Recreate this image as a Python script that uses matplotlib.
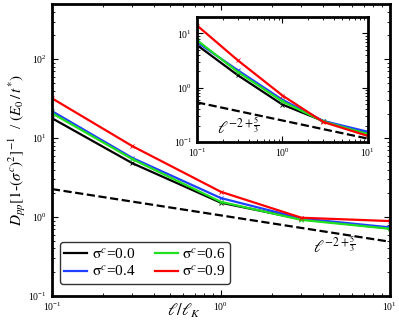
import matplotlib
matplotlib.use("Agg")
import matplotlib.pyplot as plt
from matplotlib.lines import Line2D
import numpy as np

plt.rcParams["font.family"] = ["Liberation Serif", "DejaVu Serif"]
plt.rcParams["mathtext.fontset"] = "stix"

# data
ell = [0.1, 0.3, 1.0, 3.0, 10.0]
sigmas = ["0.0", "0.4", "0.6", "0.9"]
colors = ["black", "#2040ff", "#20e020", "red"]

main_vals = [
    [17.9, 4.8, 1.52, 0.94, 0.72],
    [22.0, 5.6, 1.74, 0.96, 0.74],
    [20.7, 5.4, 1.56, 0.92, 0.71],
    [32.0, 7.9, 2.09, 0.98, 0.89],
]
inset_vals = [
    [6.1, 1.7, 0.49, 0.245, 0.14],
    [6.9, 2.1, 0.60, 0.245, 0.155],
    [7.5, 1.95, 0.56, 0.24, 0.14],
    [14.0, 3.2, 0.72, 0.235, 0.13],
]
ref_main = 1.05   # prefactor of ell^(-1/3) guide
ref_inset = 0.25


def style_axes(ax, fs):
    ax.set_xscale("log")
    ax.set_yscale("log")
    ax.tick_params(which="both", direction="in", top=True, right=True, labelsize=fs)
    ax.tick_params(which="major", length=4, width=0.8)
    ax.tick_params(which="minor", length=2, width=0.6)
    for s in ax.spines.values():
        s.set_linewidth(2)


fig = plt.figure(figsize=(3.99, 3.23), dpi=100)
ax = fig.add_axes([0.130, 0.0836, 0.847, 0.904])
style_axes(ax, 7)

xs = np.array(ell)
for c, v in zip(colors, main_vals):
    ax.plot(xs, v, color=c, lw=1.6, marker="x", ms=3.5, mew=0.6)
ax.plot(xs, ref_main * xs ** (-1.0 / 3), "k--", lw=1.6)
ax.text(3.5, 0.35, r"$\ell^{-2+\frac{5}{3}}$", fontsize=12)

ax.set_xlim(0.1, 10)
ax.set_ylim(0.1, 500)
ax.set_xlabel(r"$\ell/\ell_K$", fontsize=12, va="center")
ax.xaxis.set_label_coords(0.39, -0.05)
ax.set_ylabel(r"$D_{pp}[1$-$(\sigma^c)^2]^{-1}$  / $(E_0\,/\,t^{*})$", fontsize=11, labelpad=0)

handles = [Line2D([], [], color=c, lw=1.6) for c in colors]
labels = [r"$\mathrm{\sigma}^{c}$=" + s for s in sigmas]
leg = ax.legend(handles, labels,
                loc="lower left", ncol=2, fontsize=11, frameon=True, fancybox=True,
                edgecolor="black", handlelength=1.5, handletextpad=0.3,
                columnspacing=1.3, borderpad=0.3, labelspacing=0.2,
                bbox_to_anchor=(0.0, 0.015))
leg.get_frame().set_linewidth(1.0)

# inset
axi = fig.add_axes([0.494, 0.560, 0.428, 0.387])
style_axes(axi, 7)
for c, v in zip(colors, inset_vals):
    axi.plot(xs, v, color=c, lw=1.6, marker="x", ms=3.5, mew=0.6)
axi.plot(xs, ref_inset * xs ** (-1.0 / 3), "k--", lw=1.6)
axi.text(0.17, 0.14, r"$\ell^{-2+\frac{5}{3}}$", fontsize=12)
axi.set_xlim(0.1, 10)
axi.set_ylim(0.1, 20)

fig.savefig("out.png", dpi=100)
